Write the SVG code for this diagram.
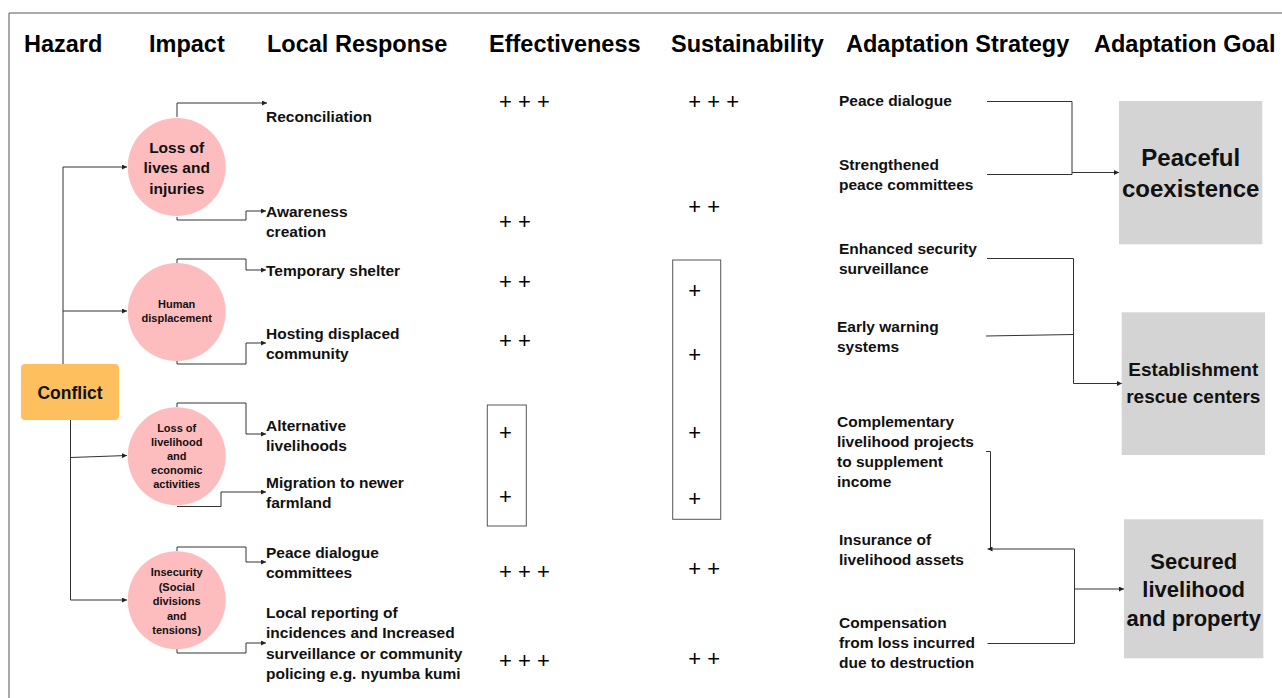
<svg xmlns="http://www.w3.org/2000/svg" width="1282" height="698" viewBox="0 0 1282 698">
<defs>
<marker id="arr" viewBox="0 0 6 6" refX="6" refY="3" markerWidth="5" markerHeight="5" markerUnits="userSpaceOnUse" orient="auto">
<path d="M0,0 L6,3 L0,6 Z" fill="#222"/>
</marker>
<style>
.hdr{font-family:"Liberation Sans",Arial,sans-serif;font-weight:700;font-size:23.5px;fill:#000}
.t{font-family:"Liberation Sans",Arial,sans-serif;font-weight:700;font-size:15.5px;fill:#111}
.s{font-family:"Liberation Sans",Arial,sans-serif;font-weight:700;font-size:15.5px;fill:#111}
.ct{font-family:"Liberation Sans",Arial,sans-serif;font-weight:700;font-size:11px;fill:#111;text-anchor:middle}
.pl{font-family:"Liberation Sans",Arial,sans-serif;font-size:22px;fill:#000}
.circ{fill:#FDBCBE}
.goal{fill:#D4D4D4}
.g1{font-family:"Liberation Sans",Arial,sans-serif;font-weight:700;fill:#111;text-anchor:middle}
.ln{fill:none;stroke:#333;stroke-width:1}
.arr{fill:none;stroke:#333;stroke-width:1;marker-end:url(#arr)}
.box{fill:none;stroke:#555;stroke-width:1}
</style>
</defs>
<rect width="1282" height="698" fill="#fff"/>
<path d="M9,698 V13 H1282" class="box"/>

<g id="headers">
<text class="hdr" x="24" y="52">Hazard</text>
<text class="hdr" x="149" y="52">Impact</text>
<text class="hdr" x="267" y="52">Local Response</text>
<text class="hdr" x="489" y="52">Effectiveness</text>
<text class="hdr" x="671" y="52">Sustainability</text>
<text class="hdr" x="846" y="52">Adaptation Strategy</text>
<text class="hdr" x="1094" y="52">Adaptation Goal</text>
</g>

<g id="connectors">
<path class="ln" d="M60,368.5 H63 V167"/>
<path class="arr" d="M63,167 H127"/>
<path class="arr" d="M63,311 H127"/>
<path class="ln" d="M70.5,420 V600"/>
<path class="arr" d="M70.5,600 H127"/>
<path class="arr" d="M70.5,457.5 L127,455.5"/>
<path class="arr" d="M177,117 V103 H267"/>
<path class="arr" d="M177,217 V220 H246 V211 H266"/>
<path class="arr" d="M177,263 V259 H246 V270 H266"/>
<path class="arr" d="M177,361 V364 H246 V343 H266"/>
<path class="arr" d="M177,407 V403 H246 V434 H266"/>
<path class="arr" d="M177,506.5 H221 V492 H266"/>
<path class="arr" d="M177,551 V547 H246 V562 H266"/>
<path class="arr" d="M177,649 V653 H246 V643 H266"/>
<path class="ln" d="M987,101.5 H1072 V174.5 H987"/>
<path class="arr" d="M1072,172.5 H1119"/>
<path class="ln" d="M987,258.5 H1073.5 V383.5"/>
<path class="arr" d="M1073.5,383.5 H1122"/>
<path class="ln" d="M986,336 L1073.5,334.5"/>
<path class="ln" d="M986,451.5 H990.5 V549"/>
<path class="arr" d="M1074.5,549 H987.5"/>
<path class="ln" d="M1074.5,549 V643.5 H987.5"/>
<path class="arr" d="M1074.5,589 H1124"/>
</g>

<g id="hazard-conflict">
<rect x="21" y="364" width="98" height="56" rx="4" fill="#FEBF5F"/>
<text x="70" y="398.5" text-anchor="middle" style="font-family:'Liberation Sans',Arial,sans-serif;font-weight:700;font-size:17.5px;fill:#111">Conflict</text>
</g>

<g id="impact-loss-of-lives">
<circle class="circ" cx="176.7" cy="167" r="49"/>
<text class="g1" x="176.7" y="152.5" font-size="15.5">Loss of</text>
<text class="g1" x="176.7" y="173" font-size="15.5">lives and</text>
<text class="g1" x="176.7" y="193.5" font-size="15.5">injuries</text>
</g>
<g id="impact-human-displacement">
<circle class="circ" cx="176.7" cy="312" r="49"/>
<text class="ct" x="176.7" y="308.3">Human</text>
<text class="ct" x="176.7" y="322">displacement</text>
</g>
<g id="impact-loss-of-livelihood">
<circle class="circ" cx="176.7" cy="456.3" r="49"/>
<text class="ct" x="176.7" y="431.7">Loss of</text>
<text class="ct" x="176.7" y="445.8">livelihood</text>
<text class="ct" x="176.7" y="459.9">and</text>
<text class="ct" x="176.7" y="474">economic</text>
<text class="ct" x="176.7" y="488">activities</text>
</g>
<g id="impact-insecurity">
<circle class="circ" cx="176.7" cy="600.2" r="49"/>
<text class="ct" x="176.7" y="576.3">Insecurity</text>
<text class="ct" x="176.7" y="590.7">(Social</text>
<text class="ct" x="176.7" y="605">divisions</text>
<text class="ct" x="176.7" y="619.7">and</text>
<text class="ct" x="176.7" y="634">tensions)</text>
</g>

<g id="responses">
<text class="t" x="266" y="121.5">Reconciliation</text>
<text class="t" x="266" y="216.5">Awareness</text>
<text class="t" x="266" y="236.5">creation</text>
<text class="t" x="266" y="275.5">Temporary shelter</text>
<text class="t" x="266" y="338.5">Hosting displaced</text>
<text class="t" x="266" y="358.5">community</text>
<text class="t" x="266" y="430.5">Alternative</text>
<text class="t" x="266" y="450.5">livelihoods</text>
<text class="t" x="266" y="487.5">Migration to newer</text>
<text class="t" x="266" y="507.5">farmland</text>
<text class="t" x="266" y="557.5">Peace dialogue</text>
<text class="t" x="266" y="577.5">committees</text>
<text class="t" x="266" y="617.5">Local reporting of</text>
<text class="t" x="266" y="638">incidences and Increased</text>
<text class="t" x="266" y="658.5">surveillance or community</text>
<text class="t" x="266" y="679">policing e.g. nyumba kumi</text>
</g>

<g id="effectiveness">
<text class="pl" x="499" y="109">+ + +</text>
<text class="pl" x="499" y="229">+ +</text>
<text class="pl" x="499" y="289">+ +</text>
<text class="pl" x="499" y="348">+ +</text>
<rect class="box" x="487.3" y="405" width="39" height="121"/>
<text class="pl" x="499" y="440">+</text>
<text class="pl" x="499" y="504">+</text>
<text class="pl" x="499" y="579">+ + +</text>
<text class="pl" x="499" y="668">+ + +</text>
</g>

<g id="sustainability">
<text class="pl" x="688.3" y="109">+ + +</text>
<text class="pl" x="688.3" y="214">+ +</text>
<rect class="box" x="672.7" y="260" width="48" height="259.3"/>
<text class="pl" x="688.3" y="298">+</text>
<text class="pl" x="688.3" y="362">+</text>
<text class="pl" x="688.3" y="440">+</text>
<text class="pl" x="688.3" y="506">+</text>
<text class="pl" x="688.3" y="576">+ +</text>
<text class="pl" x="688.3" y="666">+ +</text>
</g>

<g id="strategies">
<text class="s" x="839" y="106">Peace dialogue</text>
<text class="s" x="839" y="169.5">Strengthened</text>
<text class="s" x="839" y="189.5">peace committees</text>
<text class="s" x="839" y="253.5">Enhanced security</text>
<text class="s" x="839" y="273.5">surveillance</text>
<text class="s" x="837" y="331.5">Early warning</text>
<text class="s" x="837" y="351.5">systems</text>
<text class="s" x="837" y="426.5">Complementary</text>
<text class="s" x="837" y="446.5">livelihood projects</text>
<text class="s" x="837" y="467">to supplement</text>
<text class="s" x="837" y="487">income</text>
<text class="s" x="839" y="544.5">Insurance of</text>
<text class="s" x="839" y="564.5">livelihood assets</text>
<text class="s" x="839" y="627.5">Compensation</text>
<text class="s" x="839" y="648">from loss incurred</text>
<text class="s" x="839" y="668">due to destruction</text>
</g>

<g id="goal-peaceful-coexistence">
<rect class="goal" x="1119" y="101" width="143.3" height="143.3"/>
<text class="g1" x="1190.7" y="165.5" font-size="24">Peaceful</text>
<text class="g1" x="1190.7" y="196.5" font-size="24">coexistence</text>
</g>
<g id="goal-establishment-rescue-centers">
<rect class="goal" x="1121.7" y="312.3" width="143.3" height="142.7"/>
<text class="g1" x="1193.3" y="376" font-size="19">Establishment</text>
<text class="g1" x="1193.3" y="402.5" font-size="19">rescue centers</text>
</g>
<g id="goal-secured-livelihood">
<rect class="goal" x="1124" y="519.3" width="139.3" height="139"/>
<text class="g1" x="1193.7" y="569" font-size="22">Secured</text>
<text class="g1" x="1193.7" y="597" font-size="22">livelihood</text>
<text class="g1" x="1193.7" y="625.5" font-size="22">and property</text>
</g>
</svg>
